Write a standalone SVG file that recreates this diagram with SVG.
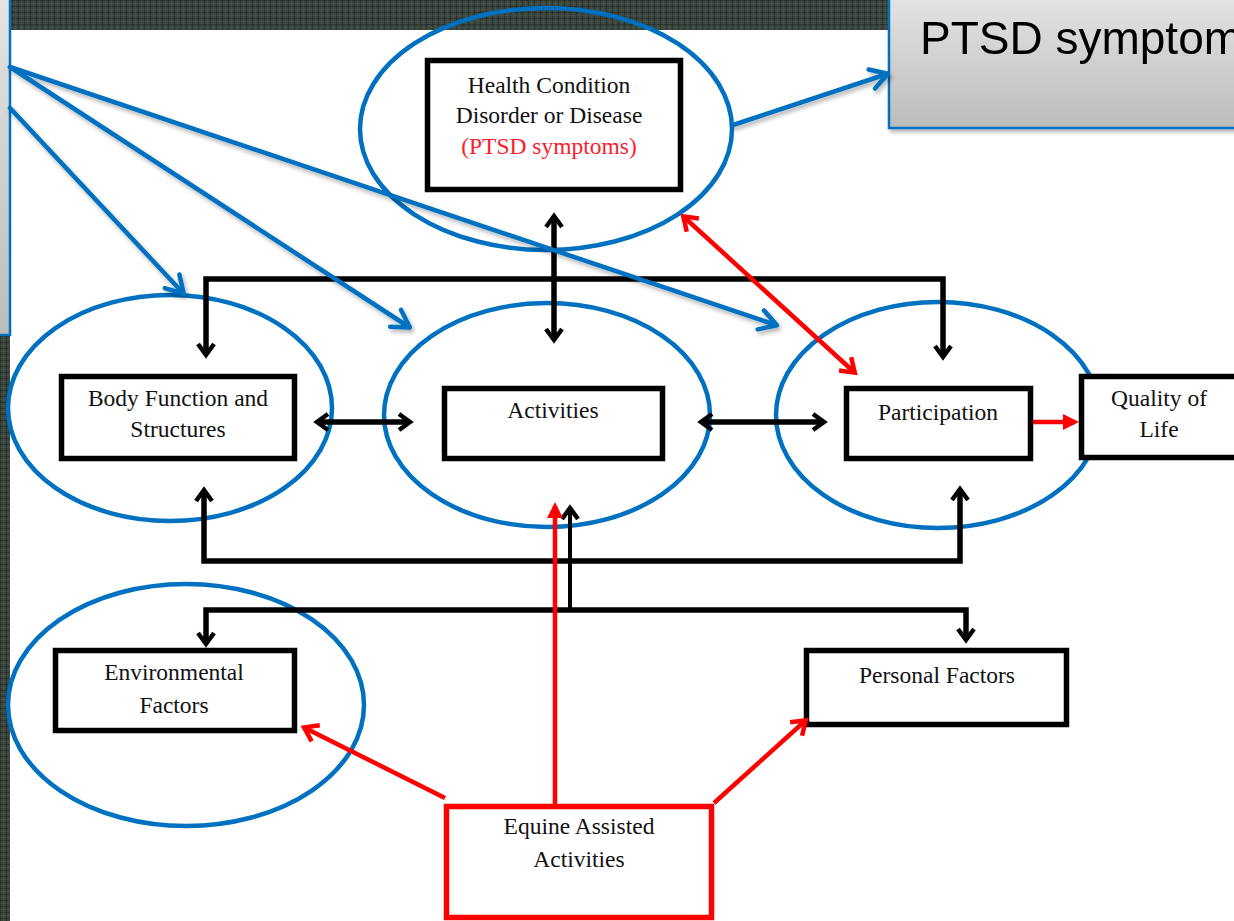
<svg xmlns="http://www.w3.org/2000/svg" width="1234" height="921" viewBox="0 0 1234 921">
<style>
.box{fill:#fff;stroke:#000;stroke-width:5.5}
.ell{fill:none;stroke:#0070c0;stroke-width:4.5}
.t{font-family:"Liberation Serif","Times New Roman",serif;font-size:23.5px;fill:#111;text-anchor:middle}
.blk{fill:none;stroke:#000;stroke-width:5.5}
.red{fill:none;stroke:#ff0000;stroke-width:4.5}
.blu{fill:none;stroke:#0070c0;stroke-width:4.5;stroke-linecap:round}
</style>
<defs>
<pattern id="tex" width="6" height="6" patternUnits="userSpaceOnUse">
<rect width="6" height="6" fill="#3a463e"/>
<path d="M0,0.5H6M0.5,0V6" stroke="#28302b" stroke-width="1"/>
<path d="M0,3.5H6M3.5,0V6" stroke="#46524a" stroke-width="0.6"/>
</pattern>
<linearGradient id="gray" x1="0" y1="0" x2="0" y2="1">
<stop offset="0" stop-color="#e4e4e4"/>
<stop offset="1" stop-color="#bcbcbc"/>
</linearGradient>
<filter id="sh" x="-10%" y="-10%" width="130%" height="140%">
<feDropShadow dx="2" dy="3" stdDeviation="2" flood-color="#000" flood-opacity="0.3"/>
</filter>
<marker id="ab" viewBox="0 0 20 20" refX="14" refY="10" markerWidth="20" markerHeight="20" orient="auto-start-reverse" markerUnits="userSpaceOnUse">
<path d="M4,2 L15,10 L4,18" fill="none" stroke="#000" stroke-width="4.5"/>
</marker>
<marker id="ar" viewBox="0 0 24 24" refX="18" refY="12" markerWidth="24" markerHeight="24" orient="auto-start-reverse" markerUnits="userSpaceOnUse">
<path d="M6,3 L19,12 L6,21" fill="none" stroke="#ff0000" stroke-width="4.5"/>
</marker>
<marker id="art" viewBox="0 0 20 20" refX="14" refY="10" markerWidth="20" markerHeight="20" orient="auto" markerUnits="userSpaceOnUse">
<path d="M2,2 L18,10 L2,18 Z" fill="#ff0000"/>
</marker>
<marker id="abl" viewBox="0 0 26 26" refX="21" refY="13" markerWidth="26" markerHeight="26" orient="auto" markerUnits="userSpaceOnUse">
<path d="M5,3 L22,13 L5,23" fill="none" stroke="#0070c0" stroke-width="4.5" stroke-linecap="round" stroke-linejoin="round"/>
</marker>
</defs>

<rect width="1234" height="921" fill="#fff"/>
<g id="backdrop">
<rect x="0" y="0" width="1234" height="30" fill="url(#tex)"/>
<rect x="0" y="0" width="10" height="921" fill="url(#tex)"/>
</g>

<g id="left-callout">
<rect x="-20" y="-5" width="30" height="340" fill="url(#gray)" stroke="#0070c0" stroke-width="2.5"/>
</g>

<g id="ptsd-callout" filter="url(#sh)">
<rect x="889" y="-5" width="400" height="133" fill="url(#gray)" stroke="#0070c0" stroke-width="2.5"/>
<text x="920" y="54" font-family="'Liberation Sans',Arial,sans-serif" font-size="46" fill="#000">PTSD symptoms</text>
</g>

<g id="health-condition">
<rect class="box" x="427.5" y="60.5" width="253" height="129"/>
<text class="t" x="549" y="93">Health Condition</text>
<text class="t" x="549" y="123">Disorder or Disease</text>
<text class="t" x="549" y="154" style="fill:#ff1a2e">(PTSD symptoms)</text>
<ellipse class="ell" cx="546" cy="129" rx="186" ry="121"/>
</g>

<g id="body-function">
<rect class="box" x="61.5" y="376.5" width="233" height="82"/>
<text class="t" x="178" y="406">Body Function and</text>
<text class="t" x="178" y="437">Structures</text>
<ellipse class="ell" cx="170" cy="408" rx="162" ry="113"/>
</g>

<g id="activities">
<rect class="box" x="444.5" y="388.5" width="218" height="70"/>
<text class="t" x="553" y="418">Activities</text>
<ellipse class="ell" cx="547" cy="415" rx="163" ry="112"/>
</g>

<g id="participation">
<rect class="box" x="846.5" y="388.5" width="184" height="70"/>
<text class="t" x="938" y="420">Participation</text>
<ellipse class="ell" cx="938" cy="415" rx="162" ry="113"/>
</g>

<g id="quality-of-life">
<rect class="box" x="1081.5" y="376.5" width="200" height="81"/>
<text class="t" x="1159" y="406">Quality of</text>
<text class="t" x="1159" y="437">Life</text>
</g>

<g id="environmental-factors">
<rect class="box" x="55.5" y="650.5" width="239" height="80"/>
<text class="t" x="174" y="680">Environmental</text>
<text class="t" x="174" y="713">Factors</text>
<ellipse class="ell" cx="186" cy="705" rx="178" ry="121"/>
</g>

<g id="personal-factors">
<rect class="box" x="806.5" y="650.5" width="260" height="74"/>
<text class="t" x="937" y="683">Personal Factors</text>
</g>

<g id="equine-assisted-activities">
<rect x="446.5" y="806.5" width="265" height="111" fill="#fff" stroke="#ff0000" stroke-width="5.5"/>
<text class="t" x="579" y="834">Equine Assisted</text>
<text class="t" x="579" y="867">Activities</text>
</g>

<g id="connectors">
<path class="blk" d="M206,354 V279 H943 V356" marker-start="url(#ab)" marker-end="url(#ab)"/>
<path class="blk" d="M554,217 V339" marker-start="url(#ab)" marker-end="url(#ab)"/>
<path class="blk" d="M318,422 H409" marker-start="url(#ab)" marker-end="url(#ab)"/>
<path class="blk" d="M702,422 H823" marker-start="url(#ab)" marker-end="url(#ab)"/>
<path class="blk" d="M204,491 V561 H960 V490" marker-start="url(#ab)" marker-end="url(#ab)"/>
<path class="blk" d="M570,610 V509" style="stroke-width:4" marker-end="url(#ab)"/>
<path class="blk" d="M206,643 V610 H966 V639" marker-start="url(#ab)" marker-end="url(#ab)"/>

<path class="red" d="M684,217 L854,372" marker-start="url(#ar)" marker-end="url(#ar)"/>
<path class="red" d="M1033,422 H1075" marker-end="url(#art)"/>
<path class="red" d="M555,806 V506" marker-end="url(#art)"/>
<path class="red" d="M445,798 L305,728" marker-end="url(#ar)"/>
<path class="red" d="M714,803 L805,721" marker-end="url(#ar)"/>

<g filter="url(#sh)">
<path class="blu" d="M10,67 L776,325" marker-end="url(#abl)"/>
<path class="blu" d="M10,67 L409,327" marker-end="url(#abl)"/>
<path class="blu" d="M10,108 L183,293" marker-end="url(#abl)"/>
<path class="blu" d="M733,125 L887,74" marker-end="url(#abl)"/>
</g>
</g>
</svg>
